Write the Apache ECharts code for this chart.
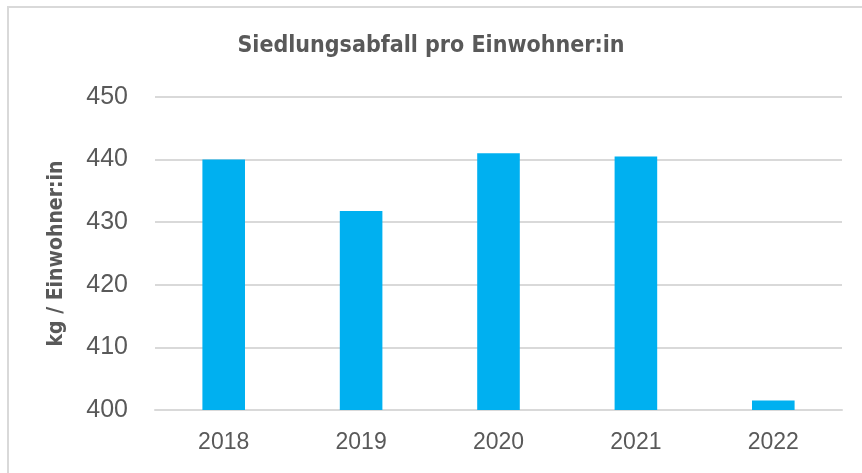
<!DOCTYPE html>
<html>
<head>
<meta charset="utf-8">
<script src="https://cdn.jsdelivr.net/npm/echarts@6/dist/echarts.min.js"></script>
<style>
  html, body { margin: 0; padding: 0; background: #fff; }
  #main { width: 862px; height: 473px; }
</style>
</head>
<body>
<div id="main"></div>
<script>
// Daten
var years = ['2018', '2019', '2020', '2021', '2022'];
var abfall = [440, 431.8, 441, 440.5, 401.5];
var yTicks = [400, 410, 420, 430, 440, 450];

// schmale Schrift für Titel und Achsentitel
var narrowFont = '"Liberation Sans Narrow", "DejaVu Sans Condensed", sans-serif';

var chartContainer = document.getElementById("main");
var myChart = echarts.init(chartContainer);

myChart.setOption({
	animation: false,
	title: {
		text: 'Siedlungsabfall pro Einwohner:in',
		left: 'center',
		top: 30,
		textStyle: {
			fontFamily: narrowFont,
			fontSize: 23,
			fontWeight: 'bold',
			color: '#595959'
		}
	},
	// Rahmen links/oben
	graphic: [{
		type: 'rect',
		shape: { x: 8, y: 7, width: 900, height: 500 },
		style: { fill: 'none', stroke: '#d9d9d9', lineWidth: 2 },
		silent: true
	}],
	grid: {
		left: 155,
		right: 20,
		top: 97,
		bottom: 63
	},
	xAxis: {
		type: 'category',
		data: years,
		axisLine: { lineStyle: { color: '#d9d9d9', width: 2 } },
		axisTick: { show: false },
		axisLabel: {
			color: '#595959',
			fontSize: 23,
			fontFamily: '"Liberation Sans", Arial, sans-serif',
			margin: 21
		}
	},
	yAxis: {
		type: 'value',
		min: yTicks[0],
		max: yTicks[yTicks.length - 1],
		interval: 10,
		name: 'kg / Einwohner:in',
		nameLocation: 'middle',
		nameGap: 88,
		nameTextStyle: {
			fontFamily: narrowFont,
			fontSize: 21,
			fontWeight: 'bold',
			color: '#595959'
		},
		axisLine: { show: false },
		axisTick: { show: false },
		splitLine: { lineStyle: { color: '#d9d9d9', width: 2 } },
		axisLabel: {
			color: '#595959',
			fontSize: 25,
			fontFamily: '"Liberation Sans", Arial, sans-serif',
			margin: 27
		}
	},
	series: [{
		name: 'Siedlungsabfall',
		type: 'bar',
		data: abfall,
		barWidth: '31%',
		itemStyle: { color: '#00b0f0' }
	}]
});
</script>
</body>
</html>
